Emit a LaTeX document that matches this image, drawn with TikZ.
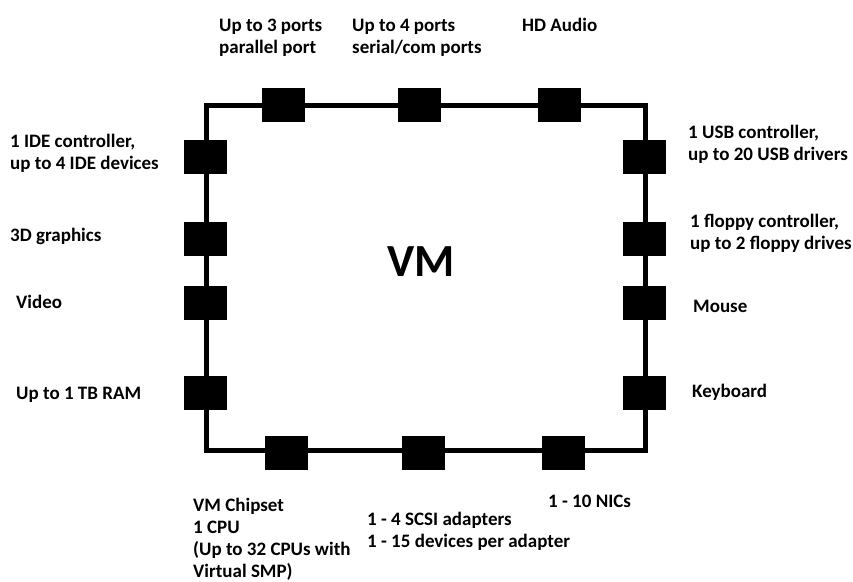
\documentclass[tikz,border=0pt]{standalone}
\usepackage{fontspec}
\setmainfont{Carlito}
\begin{document}
\begin{tikzpicture}[x=1pt,y=-1pt,
  frame/.style={line width=5pt,line join=miter},
  port/.style={fill=black,draw=none,minimum width=43pt,minimum height=34pt,inner sep=0pt},
  lbl/.style={anchor=base west,inner sep=0pt,align=left,font=\fontsize{19}{22.3}\selectfont\bfseries}]
\useasboundingbox[fill=white] (0,0) rectangle (853,581);
% frame corners
\coordinate (tl) at (206.5,105);
\coordinate (tr) at (645,105);
\coordinate (br) at (645,450.5);
\coordinate (bl) at (206.5,450.5);
\draw[frame] (tl) -- (tr) -- (br) -- (bl) -- cycle;
% ports
\node[port] (t1) at (283.5,104.5) {};
\node[port] (t2) at (419,104.5) {};
\node[port] (t3) at (559,104.5) {};
\node[port] (l1) at (205,157) {};
\node[port] (l2) at (205,238.5) {};
\node[port] (l3) at (205,303) {};
\node[port] (l4) at (205,392.5) {};
\node[port] (r1) at (644.5,156.5) {};
\node[port] (r2) at (644.5,238.5) {};
\node[port] (r3) at (644.5,303) {};
\node[port] (r4) at (644.5,392.5) {};
\node[port] (b1) at (286,452.5) {};
\node[port] (b2) at (423,452.5) {};
\node[port] (b3) at (563,452.5) {};
% centre
\node[inner sep=0pt] (vm) at (421.5,262) {\fontsize{46}{50}\selectfont\bfseries VM};
% labels (base = baseline of last line)
\node[lbl] (lt1) at (219,53.3) {Up to 3 ports\\parallel port};
\node[lbl] (lt2) at (352,53.3) {Up to 4 ports\\serial/com ports};
\node[lbl] (lt3) at (522,31) {HD Audio};
\node[lbl] (ll1) at (10,169.3) {1 IDE controller,\\up to 4 IDE devices};
\node[lbl] (ll2) at (10,241) {3D graphics};
\node[lbl] (ll3) at (16,308) {Video};
\node[lbl] (ll4) at (16,399) {Up to 1 TB RAM};
\node[lbl] (lr1) at (688,160.3) {1 USB controller,\\up to 20 USB drivers};
\node[lbl] (lr2) at (690,249.3) {1 floppy controller,\\up to 2 floppy drives};
\node[lbl] (lr3) at (693,312) {Mouse};
\node[lbl] (lr4) at (692,397) {Keyboard};
\node[lbl] (lb1) at (193,577.9) {VM Chipset\\1 CPU\\(Up to 32 CPUs with\\Virtual SMP)};
\node[lbl] (lb2) at (367,547.3) {1 - 4 SCSI adapters\\1 - 15 devices per adapter};
\node[lbl] (lb3) at (548,507) {1 - 10 NICs};
\end{tikzpicture}
\end{document}
